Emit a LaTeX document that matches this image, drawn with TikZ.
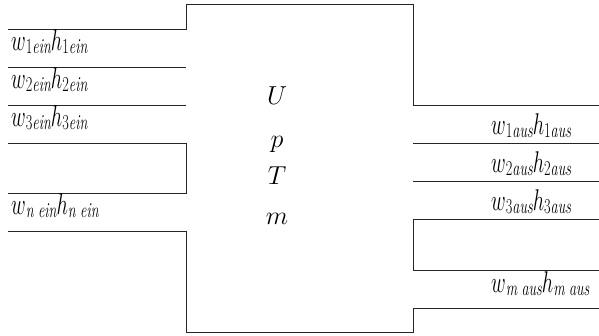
\documentclass[tikz,border=0pt]{standalone}
\usepackage{fix-cm}
\usepackage{fontspec}
\newcommand{\subpart}[2]{\raisebox{-3pt}{\fontsize{17}{17}\selectfont$#1\mathit{#2}$}}
\newcommand{\lbl}[4]{\scalebox{0.84}[1.25]{$w$\subpart{#1}{#2}$h$\subpart{#3}{#4}}}
\begin{document}
\begin{tikzpicture}[x=1pt,y=-1pt,
  wire/.style={draw=black!85,line width=0.9pt},
  lab/.style={inner sep=0pt,anchor=base west,font=\fontsize{24}{24}\selectfont},
  var/.style={inner sep=0pt,anchor=base,font=\fontsize{26}{26}\selectfont}]
\useasboundingbox (0,0) rectangle (599,335);
\clip (0,0) rectangle (599,335);
% box outline with ports
\coordinate (tl) at (186,4);
\coordinate (tr) at (413,4);
\coordinate (bl) at (186,332);
\coordinate (br) at (413,332);
\draw[wire] (8,29) -- (186,29) -- (tl) -- (tr) -- (413,105) -- (599,105);
\draw[wire] (8,67) -- (186,67);
\draw[wire] (8,105) -- (186,105);
\draw[wire] (8,143) -- (186,143) -- (186,193) -- (8,193);
\draw[wire] (8,231) -- (186,231) -- (bl) -- (br) -- (413,308) -- (599,308);
\draw[wire] (599,143) -- (413,143);
\draw[wire] (599,181) -- (413,181);
\draw[wire] (599,219) -- (413,219) -- (413,270) -- (599,270);
% left labels
\node[lab] (l1) at (11,50) {\lbl{1}{ein}{1}{ein}};
\node[lab] (l2) at (11,88) {\lbl{2}{ein}{2}{ein}};
\node[lab] (l3) at (11,126) {\lbl{3}{ein}{3}{ein}};
\node[lab] (ln) at (11,214) {\lbl{}{n\ ein}{}{n\ ein}};
% right labels
\node[lab] (r1) at (491,134) {\lbl{1}{aus}{1}{aus}};
\node[lab] (r2) at (491,172) {\lbl{2}{aus}{2}{aus}};
\node[lab] (r3) at (491,210) {\lbl{3}{aus}{3}{aus}};
\node[lab] (rm) at (491,292) {\lbl{}{m\ aus}{}{m\ aus}};
% state variables
\node[var] (U) at (277,104) {$U$};
\node[var] (p) at (277,147) {$p$};
\node[var] (T) at (277,184) {$T$};
\node[var] (m) at (277,224) {$m$};
\end{tikzpicture}
\end{document}
